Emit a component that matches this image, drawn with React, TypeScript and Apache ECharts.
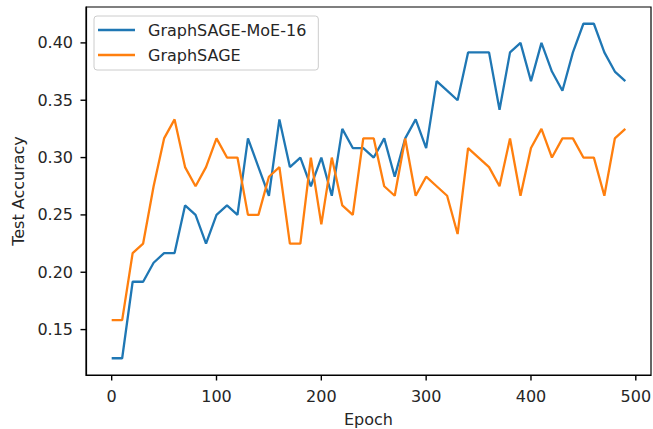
import React, { useEffect, useRef } from "react";
import * as echarts from "echarts";

const epochs: number[] = Array.from({ length: 50 }, (_, i) => i * 10);

const moeAcc: number[] = [
  0.125, 0.125, 0.1917, 0.1917, 0.2083, 0.2167, 0.2167, 0.2583, 0.25, 0.225,
  0.25, 0.2583, 0.25, 0.3167, 0.2917, 0.2667, 0.3333, 0.2917, 0.3, 0.275,
  0.3, 0.2667, 0.325, 0.3083, 0.3083, 0.3, 0.3167, 0.2833, 0.3167, 0.3333,
  0.3083, 0.3667, 0.3583, 0.35, 0.3917, 0.3917, 0.3917, 0.3417, 0.3917, 0.4,
  0.3667, 0.4, 0.375, 0.3583, 0.3917, 0.4167, 0.4167, 0.3917, 0.375, 0.3667,
];

const sageAcc: number[] = [
  0.1583, 0.1583, 0.2167, 0.225, 0.275, 0.3167, 0.3333, 0.2917, 0.275, 0.2917,
  0.3167, 0.3, 0.3, 0.25, 0.25, 0.2833, 0.2917, 0.225, 0.225, 0.3,
  0.2417, 0.3, 0.2583, 0.25, 0.3167, 0.3167, 0.275, 0.2667, 0.3167, 0.2667,
  0.2833, 0.275, 0.2667, 0.2333, 0.3083, 0.3, 0.2917, 0.275, 0.3167, 0.2667,
  0.3083, 0.325, 0.3, 0.3167, 0.3167, 0.3, 0.3, 0.2667, 0.3167, 0.325,
];

const xTicks: number[] = [0, 100, 200, 300, 400, 500];
const yTicks: number[] = [0.15, 0.2, 0.25, 0.3, 0.35, 0.4];

const seriesNames = ["GraphSAGE-MoE-16", "GraphSAGE"];

const X_MIN = -24.5;
const X_MAX = 514.5;
const Y_MIN = 0.1104;
const Y_MAX = 0.4313;

export default function App() {
  const ref = useRef<HTMLDivElement>(null);
  useEffect(() => {
    if (!ref.current) return;
    const chart = echarts.init(ref.current, null, { renderer: "svg" });
    const font = "DejaVu Sans";
    const textColor = "#262626";
    const fs = 16;
    chart.setOption({
      animation: false,
      backgroundColor: "#ffffff",
      grid: {
        left: 86,
        right: 2,
        top: 7,
        bottom: 54,
        outerBoundsMode: "none",
        containLabel: false,
        show: true,
        borderColor: "#000",
        borderWidth: 1.2,
        backgroundColor: "transparent",
      },
      legend: {
        orient: "vertical",
        left: 94,
        top: 16,
        data: seriesNames,
        icon: "rect",
        itemWidth: 37,
        itemHeight: 2.5,
        itemGap: 9,
        padding: [6, 12, 7, 4],
        backgroundColor: "#fff",
        borderColor: "#cccccc",
        borderWidth: 1,
        borderRadius: 3,
        textStyle: {
          fontFamily: font,
          fontSize: fs,
          color: textColor,
          padding: [0, 0, 0, 8],
        },
      },
      xAxis: {
        type: "value",
        min: X_MIN,
        max: X_MAX,
        name: "Epoch",
        nameLocation: "middle",
        nameGap: 36,
        nameTextStyle: { fontFamily: font, fontSize: fs, color: textColor },
        axisLine: { show: true, onZero: false, lineStyle: { color: "#000", width: 1.2 } },
        splitLine: { show: false },
        axisTick: { show: false },
        axisLabel: {
          customValues: xTicks,
          margin: 13,
          fontFamily: font,
          fontSize: fs,
          color: textColor,
          formatter: (v: number) => String(v),
        },
      },
      yAxis: {
        type: "value",
        min: Y_MIN,
        max: Y_MAX,
        name: "Test Accuracy",
        nameLocation: "middle",
        nameGap: 60,
        nameRotate: 90,
        nameTextStyle: { fontFamily: font, fontSize: fs, color: textColor },
        axisLine: { show: true, onZero: false, lineStyle: { color: "#000", width: 1.2 } },
        splitLine: { show: false },
        axisTick: { show: false },
        axisLabel: {
          customValues: yTicks,
          margin: 13,
          fontFamily: font,
          fontSize: fs,
          color: textColor,
          formatter: (v: number) => v.toFixed(2),
        },
      },
      series: [
        {
          name: seriesNames[0],
          type: "line",
          data: epochs.map((e, i) => [e, moeAcc[i]]),
          showSymbol: false,
          symbol: "none",
          lineStyle: { color: "#1f77b4", width: 2.3 },
          itemStyle: { color: "#1f77b4" },
        },
        {
          name: seriesNames[1],
          type: "line",
          data: epochs.map((e, i) => [e, sageAcc[i]]),
          showSymbol: false,
          symbol: "none",
          lineStyle: { color: "#ff7f0e", width: 2.3 },
          itemStyle: { color: "#ff7f0e" },
        },
      ],
    });

    // tick marks placed through the library's own coordinate conversion
    const tickLen = 5.5;
    const tickStyle = { stroke: "#000", lineWidth: 1.4 };
    const elements: any[] = [];
    xTicks.forEach((v) => {
      const p = chart.convertToPixel({ xAxisIndex: 0, yAxisIndex: 0 }, [v, Y_MIN]) as number[];
      if (!p) return;
      elements.push({
        type: "line",
        z: 100,
        shape: { x1: p[0], y1: p[1], x2: p[0], y2: p[1] + tickLen },
        style: tickStyle,
        silent: true,
      });
    });
    yTicks.forEach((v) => {
      const p = chart.convertToPixel({ xAxisIndex: 0, yAxisIndex: 0 }, [X_MIN, v]) as number[];
      if (!p) return;
      elements.push({
        type: "line",
        z: 100,
        shape: { x1: p[0] - tickLen, y1: p[1], x2: p[0], y2: p[1] },
        style: tickStyle,
        silent: true,
      });
    });
    chart.setOption({ graphic: { elements } });

    return () => chart.dispose();
  }, []);
  return (
    <div
      ref={ref}
      style={{ position: "fixed", left: 0, top: 0, width: 653, height: 429, background: "#fff" }}
    />
  );
}
